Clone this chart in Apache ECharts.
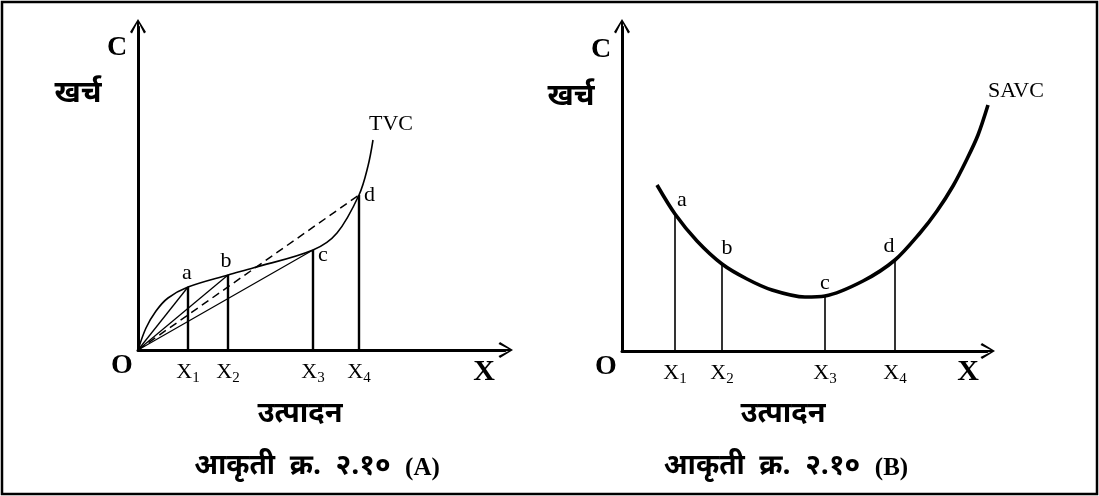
<!DOCTYPE html>
<html>
<head>
<meta charset="utf-8">
<title>आकृती क्र. २.१०</title>
<script src="https://cdn.jsdelivr.net/npm/echarts@6/dist/echarts.min.js"></script>
<style>
  html, body { margin: 0; padding: 0; background: #fff; }
  #main { width: 1099px; height: 496px; }
</style>
</head>
<body>
<div id="main"></div>
<script>
// ---- data (units = offset from origin) ----
// figure A : TVC
const tvcX = [0, 8, 18, 30, 50, 90, 115, 175, 199, 221, 230, 235]
const tvcY = [0, 22, 39, 52, 63, 75, 82, 100, 117, 155, 184, 210]
const ptsAX = [50, 90, 175, 221]      // X1..X4
const ptsAY = [63, 75, 100, 155]      // a..d on TVC
// figure B : SAVC
const savcX = [35, 53, 75, 100, 125, 150, 183, 203, 241, 273, 298, 315, 331, 345, 356, 366]
const savcY = [166, 137, 110, 87, 72, 61, 54, 55, 70, 91, 118, 140, 165, 192, 216, 246]
const ptsBX = [53, 100, 203, 273]
const ptsBY = [137, 87, 55, 91]
const ptNames = ['a', 'b', 'c', 'd']
const xNames = ['1', '2', '3', '4']

const SERIF = "'Liberation Serif', 'Times New Roman', serif"
const DEVA = "'Noto Sans Devanagari', 'Noto Serif Devanagari', 'Lohit Devanagari', 'FreeSans', 'Noto Sans', sans-serif"
const INK = '#000'
// open arrow head with a short stem, pointing up
const ARROW = 'path://M8,0 L16,13 L14,14.5 L9,4.5 L9,16 L7,16 L7,4.5 L2,14.5 L0,13 Z'

function zip(xs, ys) {
  var out = []
  xs.forEach(function (x, i) { out.push([x, ys[i]]) })
  return out
}

function makeAxes(gridIndex, xmax, ymax, xs) {
  var line = { symbol: ['none', ARROW], symbolSize: [17, 16], lineStyle: { color: INK, width: 3 } }
  return {
    x: {
      type: 'value', gridIndex: gridIndex, min: 0, max: xmax,
      axisLine: line, axisTick: { show: false }, splitLine: { show: false },
      axisLabel: {
        customValues: xs, margin: 8,
        formatter: function (v) {
          var i = xs.indexOf(v)
          return '{m|X}{s|' + xNames[i] + '}'
        },
        rich: {
          m: { fontFamily: SERIF, fontSize: 22, color: INK },
          s: { fontFamily: SERIF, fontSize: 15, color: INK, padding: [13, 0, 0, 0] }
        }
      }
    },
    y: {
      type: 'value', gridIndex: gridIndex, min: 0, max: ymax,
      axisLine: line, axisTick: { show: false }, splitLine: { show: false },
      axisLabel: { show: false }
    }
  }
}

const axA = makeAxes(0, 367, 323, ptsAX)
const axB = makeAxes(1, 365, 324, ptsBX)

// text-only scatter (no marker), used for a, b, c, d and curve names
function labelSeries(axisIndex, data, fontSize) {
  return {
    type: 'scatter', xAxisIndex: axisIndex, yAxisIndex: axisIndex,
    symbolSize: 0, silent: true, clip: false,
    itemStyle: { opacity: 1 },
    data: data,
    label: { show: true, formatter: '{b}', fontFamily: SERIF, fontSize: fontSize, color: INK }
  }
}

var series = []

// TVC curve
series.push({
  type: 'line', xAxisIndex: 0, yAxisIndex: 0, data: zip(tvcX, tvcY),
  smooth: 0.35, showSymbol: false, silent: true, clip: false,
  lineStyle: { color: INK, width: 1.6 }
})
// rays from O to a, b, c (solid) and d (dashed)
ptsAX.forEach(function (x, i) {
  series.push({
    type: 'line', xAxisIndex: 0, yAxisIndex: 0, data: [[0, 0], [x, ptsAY[i]]],
    showSymbol: false, silent: true,
    lineStyle: { color: INK, width: i == 3 ? 1.5 : 1.3, type: i == 3 ? [8, 5] : 'solid' }
  })
  // drop line
  series.push({
    type: 'line', xAxisIndex: 0, yAxisIndex: 0, data: [[x, 0], [x, ptsAY[i]]],
    showSymbol: false, silent: true, lineStyle: { color: INK, width: 2.4 }
  })
})
// point labels A
var labA = [
  { position: 'top', offset: [-1, 2] },
  { position: 'top', offset: [-2, 2] },
  { position: 'right', offset: [0, 5] },
  { position: 'right', offset: [0, 0] }
]
series.push(labelSeries(0, ptsAX.map(function (x, i) {
  return { value: [x, ptsAY[i]], name: ptNames[i], label: labA[i] }
}), 22))
// TVC name at the end of the curve
series.push(labelSeries(0, [{
  value: [tvcX[tvcX.length - 1], tvcY[tvcY.length - 1]], name: 'TVC',
  label: { position: 'top', offset: [18, 0] }
}], 22))

// SAVC curve
series.push({
  type: 'line', xAxisIndex: 1, yAxisIndex: 1, data: zip(savcX, savcY),
  smooth: 0.3, showSymbol: false, silent: true, clip: false,
  lineStyle: { color: INK, width: 3.6 }
})
ptsBX.forEach(function (x, i) {
  series.push({
    type: 'line', xAxisIndex: 1, yAxisIndex: 1, data: [[x, 0], [x, ptsBY[i]]],
    showSymbol: false, silent: true, lineStyle: { color: INK, width: 1.6 }
  })
})
var labB = [
  { position: 'top', offset: [7, 2] },
  { position: 'top', offset: [5, 0] },
  { position: 'top', offset: [0, 3] },
  { position: 'top', offset: [-6, 2] }
]
series.push(labelSeries(1, ptsBX.map(function (x, i) {
  return { value: [x, ptsBY[i]], name: ptNames[i], label: labB[i] }
}), 22))
series.push(labelSeries(1, [{
  value: [savcX[savcX.length - 1], savcY[savcY.length - 1]], name: 'SAVC',
  label: { position: 'top', offset: [28, 2] }
}], 22))

// fixed texts (axis letters, captions)
function txt(x, y, text, font, size, bold) {
  return {
    type: 'text', x: x, y: y, silent: true,
    style: {
      text: text, fill: INK, font: (bold ? 'bold ' : '') + size + 'px ' + font,
      align: 'center', verticalAlign: 'middle'
    }
  }
}
function caption(x, y, tag) {
  return {
    type: 'text', x: x, y: y, silent: true,
    style: {
      text: '{d|आकृती  क्र.  २.१०  }{l|(' + tag + ')}', align: 'center', verticalAlign: 'middle',
      rich: {
        d: { fontFamily: DEVA, fontWeight: 'bold', fontSize: 28, fill: INK },
        l: { fontFamily: SERIF, fontWeight: 'bold', fontSize: 25, fill: INK }
      }
    }
  }
}

var graphics = [
  { type: 'rect', shape: { x: 2, y: 2, width: 1095, height: 492 }, style: { fill: 'none', stroke: INK, lineWidth: 2.5 }, silent: true },
  // A
  txt(117, 48, 'C', SERIF, 28, true),
  txt(78, 96, 'खर्च', DEVA, 30, true),
  txt(122, 366, 'O', SERIF, 28, true),
  txt(484, 372, 'X', SERIF, 30, true),
  txt(300, 417, 'उत्पादन', DEVA, 29, true),
  caption(317, 469, 'A'),
  // B
  txt(601, 50, 'C', SERIF, 28, true),
  txt(571, 99, 'खर्च', DEVA, 30, true),
  txt(606, 367, 'O', SERIF, 28, true),
  txt(968, 372, 'X', SERIF, 30, true),
  txt(783, 417, 'उत्पादन', DEVA, 29, true),
  caption(786, 469, 'B')
]

var chart = echarts.init(document.getElementById('main'), null, { renderer: 'canvas' })
chart.setOption({
  backgroundColor: '#ffffff',
  animation: false,
  grid: [
    { left: 138, top: 27, width: 367, height: 323 },
    { left: 622, top: 27, width: 365, height: 324 }
  ],
  xAxis: [axA.x, axB.x],
  yAxis: [axA.y, axB.y],
  series: series,
  graphic: graphics
})
</script>
</body>
</html>
